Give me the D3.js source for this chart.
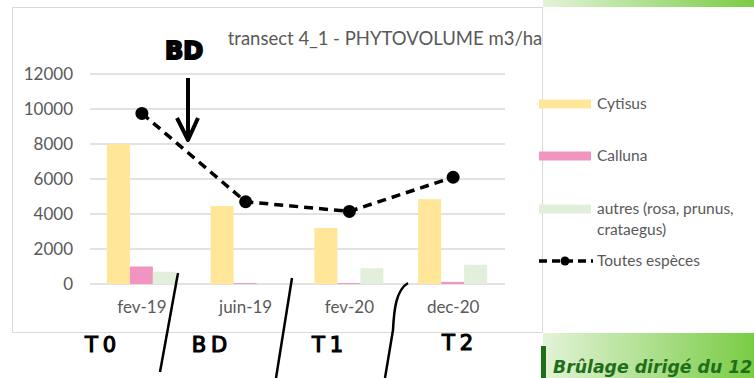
<!DOCTYPE html>
<html>
<head>
<meta charset="utf-8">
<script src="https://cdn.jsdelivr.net/npm/d3@7"></script>
<style>
  body { margin: 0; background: #fff; }
  svg { display: block; }
  .tick text { fill: #595959; font-family: Lato, sans-serif; font-size: 17px; }
  .legend text { fill: #595959; font-family: Lato, sans-serif; font-size: 15.5px; }
  .hand { font-family: "DejaVu Sans", sans-serif; }
</style>
</head>
<body>
<div id="chart"></div>
<script>
// data
var dates = ['fev-19', 'juin-19', 'fev-20', 'dec-20'];
var cytisus = [8000, 4450, 3200, 4850];
var calluna = [1000, 50, 50, 120];
var autres = [700, 0, 900, 1100];
var total = [9750, 4700, 4150, 6100];
var yTicks = [0, 2000, 4000, 6000, 8000, 10000, 12000];
var seriesNames = ['Cytisus', 'Calluna', 'autres (rosa, prunus, crataegus)'];
var phases = ['T0', 'BD', 'T1', 'T2'];

var W = 754, H = 378;
var colors = ['#ffe699', '#f194c2', '#e2efda'];

var svg = d3.select('#chart').append('svg')
    .attr('width', W).attr('height', H);

// green gradients of the slide behind
var defs = svg.append('defs');
var grad = defs.append('linearGradient').attr('id', 'green');
grad.append('stop').attr('offset', '0%').attr('stop-color', '#e3f3d8');
grad.append('stop').attr('offset', '100%').attr('stop-color', '#7acc45');

svg.append('rect').attr('x', 543).attr('y', 0).attr('width', W - 543).attr('height', 7)
    .attr('fill', 'url(#green)');
svg.append('rect').attr('x', 543).attr('y', 333).attr('width', W - 543).attr('height', H - 333)
    .attr('fill', 'url(#green)');
svg.append('rect').attr('x', 541).attr('y', 346).attr('width', 5).attr('height', 32)
    .attr('fill', '#1e6e1a');
svg.append('text').attr('x', 553).attr('y', 373)
    .style('font-family', '"DejaVu Sans", sans-serif').style('font-size', '17.3px')
    .style('font-style', 'italic').style('font-weight', 'bold').attr('fill', '#1e6e1a')
    .text('Brûlage dirigé du 12');

// chart frame
svg.append('rect').attr('x', 12.5).attr('y', 7.5).attr('width', 530).attr('height', 325)
    .attr('fill', '#fff').attr('stroke', '#d9d9d9');

svg.append('text').attr('x', 385).attr('y', 45).attr('text-anchor', 'middle')
    .style('font-family', 'Lato, sans-serif').style('font-size', '18.5px').attr('fill', '#595959')
    .text('transect 4_1 - PHYTOVOLUME m3/ha');

var x = d3.scaleBand().domain(dates).range([90, 505]);
var xs = d3.scaleBand().domain(d3.range(3)).range([0, 69]);
var y = d3.scaleLinear().domain([0, 12000]).range([284, 74]);

// grid
svg.append('g').selectAll('line').data(yTicks).join('line')
    .attr('x1', 90).attr('x2', 505)
    .attr('y1', d => y(d)).attr('y2', d => y(d))
    .attr('stroke', '#d9d9d9').attr('stroke-width', 1.5);

var yAxis = svg.append('g').attr('transform', 'translate(77,0)')
    .call(d3.axisLeft(y).tickValues(yTicks).tickFormat(d3.format('d')).tickSize(0).tickPadding(4));
yAxis.select('.domain').remove();

var xAxis = svg.append('g').attr('transform', 'translate(0,' + y(0) + ')')
    .call(d3.axisBottom(x).tickSize(0).tickPadding(17));
xAxis.select('.domain').remove();

// bars
var series = [cytisus, calluna, autres];
series.forEach((vals, i) => {
  svg.append('g').selectAll('rect').data(vals).join('rect')
      .attr('x', (d, j) => x(dates[j]) + x.bandwidth() / 2 - 35 + xs(i))
      .attr('y', d => y(d))
      .attr('width', xs.bandwidth())
      .attr('height', d => y(0) - y(d))
      .attr('fill', colors[i]);
});

// total line
var cx = d => x(d) + x.bandwidth() / 2;
var line = d3.line().x((d, i) => cx(dates[i])).y(d => y(d));
svg.append('path').datum(total)
    .attr('d', line).attr('fill', 'none')
    .attr('stroke', '#000').attr('stroke-width', 3.5).attr('stroke-dasharray', '9,6');
svg.append('g').selectAll('circle').data(total).join('circle')
    .attr('cx', (d, i) => cx(dates[i])).attr('cy', d => y(d)).attr('r', 6.5).attr('fill', '#000');

// legend
var lg = svg.append('g').attr('class', 'legend');
var legY = [104, 156, 209];
seriesNames.forEach((n, i) => {
  lg.append('rect').attr('x', 539).attr('y', legY[i] - 4.5).attr('width', 52).attr('height', 9)
      .attr('fill', colors[i]);
});
lg.append('text').attr('x', 597).attr('y', 109).text('Cytisus');
lg.append('text').attr('x', 597).attr('y', 161).text('Calluna');
lg.append('text').attr('x', 597).attr('y', 214).text('autres (rosa, prunus,');
lg.append('text').attr('x', 597).attr('y', 235).text('crataegus)');
lg.append('line').attr('x1', 539).attr('x2', 593).attr('y1', 261).attr('y2', 261)
    .attr('stroke', '#000').attr('stroke-width', 3.5).attr('stroke-dasharray', '8,5');
lg.append('circle').attr('cx', 565).attr('cy', 261).attr('r', 4.5).attr('fill', '#000');
lg.append('text').attr('x', 597).attr('y', 266).text('Toutes espèces');

// handwritten notes
svg.append('text').attr('class', 'hand').attr('x', 184).attr('y', 59).attr('text-anchor', 'middle')
    .style('font-size', '24px').style('font-weight', 'bold').attr('fill', '#000')
    .attr('stroke', '#000').attr('stroke-width', 2).text('BD');
svg.append('line').attr('x1', 188).attr('x2', 188).attr('y1', 78).attr('y2', 138)
    .attr('stroke', '#000').attr('stroke-width', 4);
svg.append('path').attr('d', 'M177,118 L188,140 L198,118')
    .attr('fill', 'none').attr('stroke', '#000').attr('stroke-width', 4)
    .attr('stroke-linejoin', 'round');

var phaseX = [103, 212, 330, 460];
var phaseY = [352, 352, 352, 350];
phases.forEach((p, i) => {
  svg.append('text').attr('class', 'hand').attr('x', phaseX[i]).attr('y', phaseY[i])
      .attr('text-anchor', 'middle').style('font-size', '21px')
      .attr('fill', '#000').attr('stroke', '#000').attr('stroke-width', 1.2)
      .style('letter-spacing', '5px').text(p);
});
var slashes = ['M178,273 L160,372', 'M292,278 L276,378', 'M408,283 C396,290 394,310 393,330 L385,378'];
slashes.forEach(s => {
  svg.append('path').attr('d', s).attr('fill', 'none').attr('stroke', '#000').attr('stroke-width', 2.5);
});
</script>
</body>
</html>
